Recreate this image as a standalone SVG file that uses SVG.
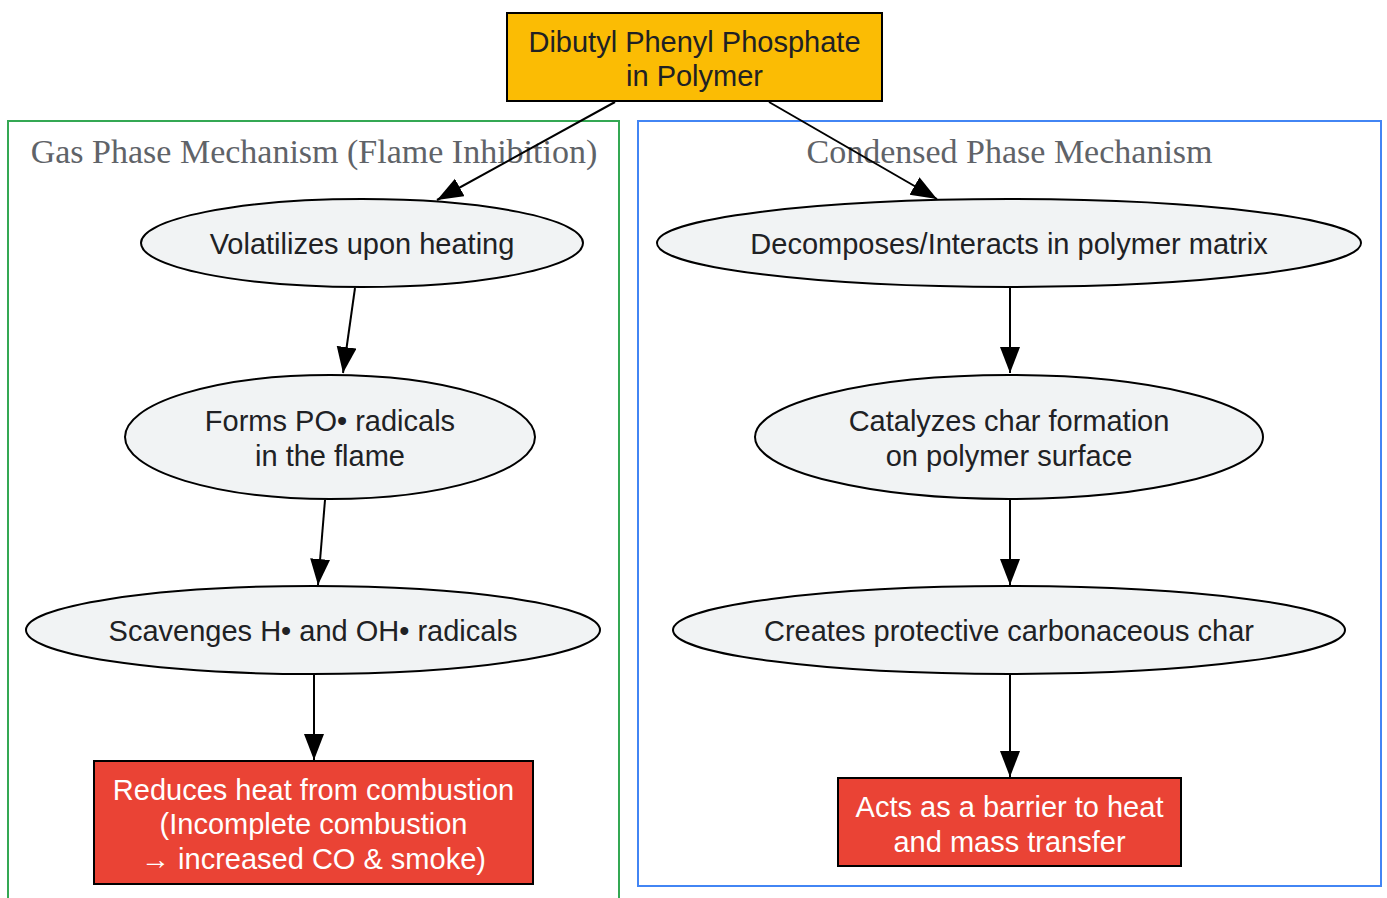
<svg xmlns="http://www.w3.org/2000/svg" width="1387" height="898" viewBox="0 0 1387 898">
<defs>
<style>
.cl{fill:none;stroke-width:2}
.cll{font-family:"Liberation Serif",serif;font-size:34px;fill:#5f6368;text-anchor:middle}
.el{fill:#f1f3f4;stroke:#000;stroke-width:2}
.tx{font-family:"Liberation Sans",Arial,sans-serif;font-size:29px;fill:#202124;text-anchor:middle}
.wt{font-family:"Liberation Sans",Arial,sans-serif;font-size:29px;fill:#fff;text-anchor:middle}
.red{fill:#ea4335;stroke:#000;stroke-width:2}
.e{stroke:#000;stroke-width:2;fill:none;marker-end:url(#ah)}
</style>
<marker id="ah" markerUnits="userSpaceOnUse" markerWidth="27" markerHeight="21" refX="26" refY="10" orient="auto" viewBox="0 0 27 21">
<path d="M0,0 L26,10 L0,20 z" fill="#000"/>
</marker>
</defs>
<rect width="1387" height="898" fill="#fff"/>
<g id="cluster_gas">
<rect class="cl" x="8" y="121" width="611" height="790" stroke="#34a853"/>
<text class="cll" x="314" y="163">Gas Phase Mechanism (Flame Inhibition)</text>
</g>
<g id="cluster_condensed">
<rect class="cl" x="638" y="121" width="743" height="765" stroke="#4285f4"/>
<text class="cll" x="1009.5" y="163">Condensed Phase Mechanism</text>
</g>
<g id="connectors">
<line class="e" x1="615" y1="102" x2="437" y2="200"/>
<line class="e" x1="769" y1="102" x2="937" y2="199"/>
<line class="e" x1="355" y1="288" x2="343" y2="373"/>
<line class="e" x1="325" y1="500" x2="318" y2="585"/>
<line class="e" x1="314" y1="675" x2="314" y2="760"/>
<line class="e" x1="1010" y1="288" x2="1010" y2="373"/>
<line class="e" x1="1010" y1="500" x2="1010" y2="585"/>
<line class="e" x1="1010" y1="675" x2="1010" y2="777"/>
</g>
<g id="n_top">
<rect x="507" y="13" width="375" height="88" fill="#fbbc04" stroke="#000" stroke-width="2"/>
<text class="tx" x="694.5" y="52">Dibutyl Phenyl Phosphate</text>
<text class="tx" x="694.5" y="86">in Polymer</text>
</g>
<g id="n_volatilizes">
<ellipse class="el" cx="362" cy="243" rx="221" ry="44"/>
<text class="tx" x="362" y="254">Volatilizes upon heating</text>
</g>
<g id="n_forms">
<ellipse class="el" cx="330" cy="437" rx="205" ry="62"/>
<text class="tx" x="330" y="431">Forms PO• radicals</text>
<text class="tx" x="330" y="466">in the flame</text>
</g>
<g id="n_scavenges">
<ellipse class="el" cx="313" cy="630" rx="287" ry="44"/>
<text class="tx" x="313" y="641">Scavenges H• and OH• radicals</text>
</g>
<g id="n_reduces">
<rect class="red" x="94" y="761" width="439" height="123"/>
<text class="wt" x="313.5" y="800">Reduces heat from combustion</text>
<text class="wt" x="313.5" y="834">(Incomplete combustion</text>
<text class="wt" x="313.5" y="869">→ increased CO &amp; smoke)</text>
</g>
<g id="n_decomposes">
<ellipse class="el" cx="1009" cy="243" rx="352" ry="44"/>
<text class="tx" x="1009" y="254">Decomposes/Interacts in polymer matrix</text>
</g>
<g id="n_catalyzes">
<ellipse class="el" cx="1009" cy="437" rx="254" ry="62"/>
<text class="tx" x="1009" y="431">Catalyzes char formation</text>
<text class="tx" x="1009" y="466">on polymer surface</text>
</g>
<g id="n_creates">
<ellipse class="el" cx="1009" cy="630" rx="336" ry="44"/>
<text class="tx" x="1009" y="641">Creates protective carbonaceous char</text>
</g>
<g id="n_acts">
<rect class="red" x="838" y="778" width="343" height="88"/>
<text class="wt" x="1009.5" y="817">Acts as a barrier to heat</text>
<text class="wt" x="1009.5" y="852">and mass transfer</text>
</g>
</svg>
